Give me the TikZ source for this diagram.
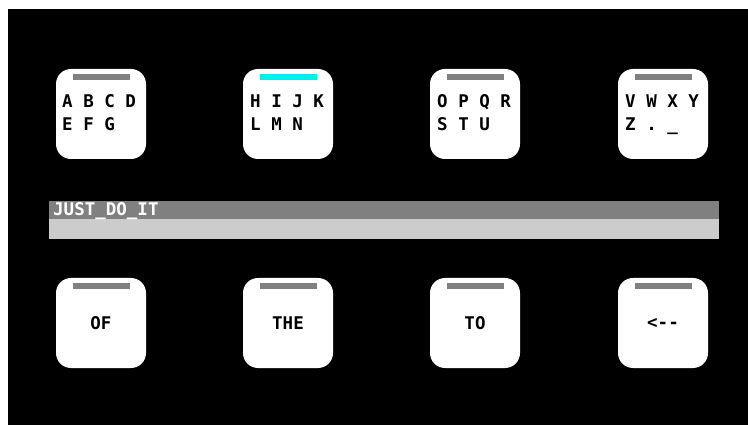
\documentclass[tikz,border=0pt]{standalone}
\usepackage{fontspec}
\setmonofont{DejaVu Sans Mono}
\usetikzlibrary{positioning}
\colorlet{bargray}{black!50}
\colorlet{fieldgray}{black!20}
\definecolor{barcyan}{RGB}{0,240,240}

\begin{document}
\begin{tikzpicture}[x=1pt,y=-1pt]
\tikzset{KeyStyle/.style ={fill=white, rounded corners=15pt, minimum width=90pt, minimum height=90pt, inner sep=0pt, font=\ttfamily\bfseries\fontsize{17.5}{24}\selectfont}}
\tikzset{BarStyle/.style ={fill=bargray, minimum width=57pt, minimum height=6pt, inner sep=0pt}}
\tikzset{RowStyle/.style ={anchor=base west, inner sep=0pt, font=\ttfamily\bfseries\fontsize{17.5}{24}\selectfont}}
\fill[white] (0,0) rectangle (748,425);
\fill[black] (8,9) rectangle (748,425);
% letter keys
\foreach \name/\x in {A/101,H/288,O/475,V/663}{
  \node[KeyStyle] (key\name) at (\x,114) {};
  \node[BarStyle, below=5pt of key\name.north] (bar\name) {};
}
\node[BarStyle, fill=barcyan] at (barH) {};
\node[RowStyle] (rowA1) at (62,108) {A B C D};
\node[RowStyle] (rowA2) at (62,131) {E F G};
\node[RowStyle] (rowH1) at (250,108) {H I J K};
\node[RowStyle] (rowH2) at (250,131) {L M N};
\node[RowStyle] (rowO1) at (437,108) {O P Q R};
\node[RowStyle] (rowO2) at (437,131) {S T U};
\node[RowStyle] (rowV1) at (625,108) {V W X Y};
\node[RowStyle] (rowV2) at (625,131) {Z . \_};
% text field
\node[fill=bargray, minimum width=670pt, minimum height=18pt, inner sep=0pt] (fieldTop) at (384,210) {};
\node[fill=fieldgray, minimum width=670pt, minimum height=20pt, inner sep=0pt, below=0pt of fieldTop] (fieldBottom) {};
\node[RowStyle, text=white] (fieldText) at (53,216) {JUST\_DO\_IT};
% word keys
\foreach \name/\x/\word in {OF/101/OF,THE/288/THE,TO/475/TO,BACK/663/{<}{-}{-}}{
  \node[KeyStyle] (key\name) at (\x,323) {\word};
  \node[BarStyle, below=5pt of key\name.north] (bar\name) {};
}
\end{tikzpicture}
\end{document}
